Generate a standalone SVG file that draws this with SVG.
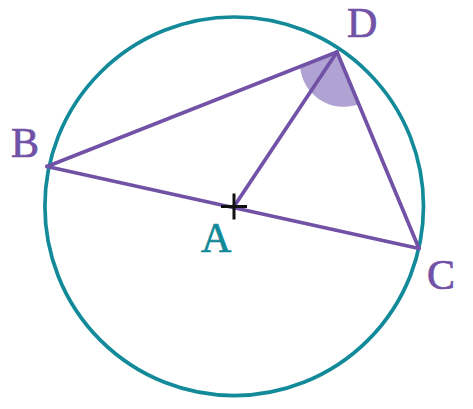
<svg xmlns="http://www.w3.org/2000/svg" width="473" height="409" viewBox="0 0 473 409">
<style>
.seg{stroke:#7152a6;stroke-width:3.7;fill:none;stroke-linecap:round}
.lbl{font-family:"Liberation Serif","DejaVu Serif",serif;font-size:42px;stroke-width:0.7}
.pur{fill:#7152a6;stroke:#7152a6}
.teal{fill:#128a99;stroke:#128a99}
</style>
<rect width="473" height="409" fill="#fff"/>
<g id="circle"><circle cx="234.2" cy="206.3" r="189.3" fill="none" stroke="#128a99" stroke-width="3.7"/></g>
<g id="angle-D"><path d="M337,52 L300,66.6 A44 44 0 0 0 358,104.5 Z" fill="#b1a2d4"/></g>
<g id="connectors">
<line class="seg" x1="47" y1="166.5" x2="337" y2="52"/>
<line class="seg" x1="47" y1="166.5" x2="419" y2="248.5"/>
<line class="seg" x1="234" y1="206.5" x2="337" y2="52"/>
<line class="seg" x1="337" y1="52" x2="419" y2="248.5"/>
</g>
<g id="A"><path d="M221,206.5 H247 M234,193.5 V219.5" stroke="#111" stroke-width="3"/><text class="lbl teal" x="201" y="252">A</text></g>
<g id="B"><text class="lbl pur" x="11" y="157">B</text></g>
<g id="C"><text class="lbl pur" x="427" y="289">C</text></g>
<g id="D"><text class="lbl pur" x="347" y="37">D</text></g>
</svg>
